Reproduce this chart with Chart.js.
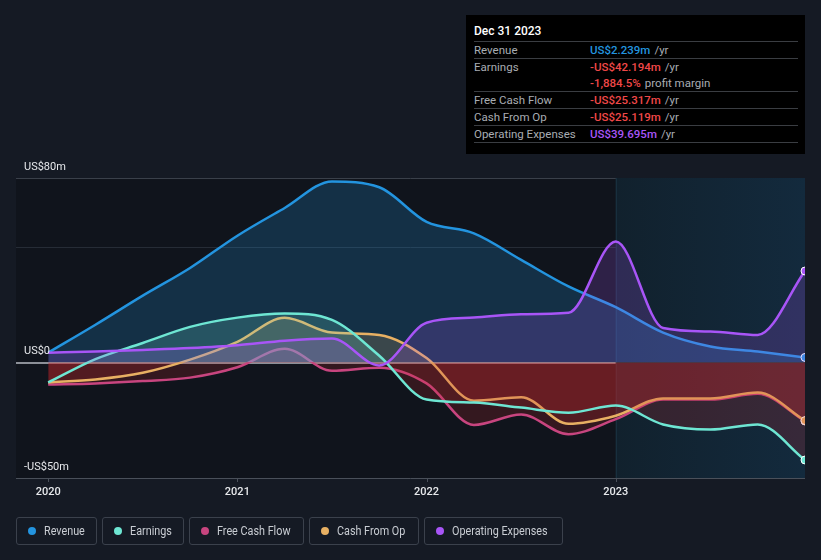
<!DOCTYPE html>
<html><head><meta charset="utf-8">
<script src="https://cdn.jsdelivr.net/npm/chart.js@4.4.0/dist/chart.umd.min.js"></script>
<style>
body{margin:0;background:#151a24;width:821px;height:560px;overflow:hidden;font-family:Roboto,"Noto Sans",sans-serif;}
#wrap{position:relative;width:821px;height:560px;}
#c{position:absolute;left:0;top:0;}
.tip{position:absolute;left:466px;top:15px;width:339px;height:139px;background:#000;box-sizing:border-box;padding:0 7px 0 8px;}
.tip .t{color:#fff;font-size:12px;font-weight:500;height:26px;line-height:33px;border-bottom:1px solid #3a3d42;}
.tip .r{display:flex;height:16px;line-height:16px;font-size:11.5px;border-bottom:1px solid #3a3d42;color:#a9adb3;}
.tip .r.nb{border-bottom:none;}
.tip .l{width:116px;}
.tip .v{font-weight:500;}
.tip .u{color:#a9adb3;margin-left:4px;}
.legend{position:absolute;left:16px;top:517px;}
.legend .i{position:absolute;top:0;height:28px;border:1px solid #3b414c;border-radius:3px;box-sizing:border-box;color:#c9cdd3;font-size:12px;white-space:nowrap;}
.legend .d{position:absolute;left:11px;top:9px;width:8px;height:8px;border-radius:50%;}
.legend .tx{position:absolute;left:27px;top:0;line-height:26px;display:inline-block;transform:scaleX(0.9);transform-origin:left center;}
</style></head>
<body><div id="wrap">
<canvas id="c" width="821" height="560"></canvas>
<div class="tip">
<div class="t">Dec 31 2023</div>
<div class="r"><span class="l">Revenue</span><span class="v" style="color:#2394df">US$2.239m</span><span class="u">/yr</span></div>
<div class="r nb"><span class="l">Earnings</span><span class="v" style="color:#f04848">-US$42.194m</span><span class="u">/yr</span></div>
<div class="r"><span class="l"></span><span class="v" style="color:#f04848">-1,884.5%</span><span class="u">profit margin</span></div>
<div class="r"><span class="l">Free Cash Flow</span><span class="v" style="color:#f04848">-US$25.317m</span><span class="u">/yr</span></div>
<div class="r"><span class="l">Cash From Op</span><span class="v" style="color:#f04848">-US$25.119m</span><span class="u">/yr</span></div>
<div class="r"><span class="l">Operating Expenses</span><span class="v" style="color:#a855f7">US$39.695m</span><span class="u">/yr</span></div>
</div>
<div class="legend" id="legend"></div>
</div>
<script>
const dates = [2020.0,2020.25,2020.5,2020.75,2021.0,2021.25,2021.5,2021.75,2022.0,2022.25,2022.5,2022.75,2023.0,2023.25,2023.5,2023.75,2024.0];
const revenue = [4.3,16.4,29,41,55,67,78.5,76,61,56,44.5,33,24,13,7,4.8,2.239];
const earnings = [-8.6,1.5,8.5,15.5,19.5,21.3,18.5,3,-16,-17.3,-19.5,-21.7,-18.6,-26.8,-29,-26.8,-42.194];
const freeCashFlow = [-9.5,-9,-8,-6.5,-2,6,-3.5,-2.2,-9,-27,-22.5,-31,-24.5,-16,-16,-13.5,-25.317];
const cashFromOp = [-8.6,-7.3,-4.4,1.3,9,19.4,13,12,2,-16.5,-15,-26.5,-23,-15.5,-15.5,-13,-25.119];
const opExpenses = [4.3,4.8,5.5,6.3,7.5,9.5,10.4,-1.2,17.3,19.5,21,21.6,52.5,15,13.5,12,39.695];
const yTicks = [-50,0,50,80];
const yLabels = {'80':'US$80m','0':'US$0','-50':'-US$50m'};
const xTicks = [2020,2021,2022,2023];
const seriesNames = ['Revenue','Earnings','Free Cash Flow','Cash From Op','Operating Expenses'];
const seriesColors = ['#2394df','#6ee6d3','#c8457f','#e8b063','#a855f7'];
const seriesFills = ['rgba(35,148,223,0.22)','rgba(110,230,211,0.2)','rgba(200,69,127,0.12)','rgba(232,176,99,0.18)','rgba(168,85,247,0.2)'];
const redFill = 'rgba(200,40,45,0.2)';
const seriesData = [revenue,earnings,freeCashFlow,cashFromOp,opExpenses];
const legendLeft = [0,86,173,293,408];
const legendWidth = [81,82,115,110,139];

const lg = document.getElementById('legend');
seriesNames.forEach((n,i)=>{
  const d=document.createElement('div');d.className='i';
  d.style.left=legendLeft[i]+'px';d.style.width=legendWidth[i]+'px';
  d.innerHTML='<span class="d" style="background:'+seriesColors[i]+'"></span><span class="tx">'+n+'</span>';
  lg.appendChild(d);
});

const bgPlugin = {
  id:'bg',
  beforeDatasetsDraw(chart){
    const {ctx, chartArea:a, scales:{x}} = chart;
    ctx.save();
    const hx = x.getPixelForValue(2023);
    const g = ctx.createLinearGradient(hx,0,a.right,0);
    g.addColorStop(0,'rgba(17,33,45,1)');
    g.addColorStop(1,'rgba(19,42,61,1)');
    ctx.fillStyle=g;
    ctx.fillRect(hx,a.top,a.right-hx,a.bottom-a.top);
    ctx.strokeStyle='#1c3344';ctx.lineWidth=1;
    ctx.beginPath();ctx.moveTo(hx+0.5,a.top);ctx.lineTo(hx+0.5,a.bottom);ctx.stroke();
    ctx.restore();
  },
  beforeDraw(chart){
    const {ctx, chartArea:a} = chart;
    ctx.save();
    ctx.fillStyle='#10141c';
    ctx.fillRect(a.left,a.top,a.right-a.left,a.bottom-a.top);
    ctx.restore();
  },
  afterDraw(chart){
    const {ctx, chartArea:a, scales:{x,y}} = chart;
    ctx.save();
    ctx.font='11px Roboto, sans-serif';
    ctx.fillStyle='#e6e8eb';
    ctx.textBaseline='middle';
    ctx.textAlign='left';
    yTicks.forEach(v=>{
      if(yLabels[String(v)]) ctx.fillText(yLabels[String(v)], 24, y.getPixelForValue(v)-11);
    });
    ctx.textAlign='center';
    ctx.font='500 11px Roboto, sans-serif';
    ctx.strokeStyle='#4a505a';ctx.lineWidth=1;
    xTicks.forEach(v=>{
      const px=x.getPixelForValue(v);
      ctx.beginPath();ctx.moveTo(Math.round(px)+0.5,a.bottom);ctx.lineTo(Math.round(px)+0.5,a.bottom+4);ctx.stroke();
      ctx.fillText(String(v), px, a.bottom+14);
    });
    ctx.restore();
  }
};

const datasets = seriesNames.map((n,i)=>({
  label:n,
  data: dates.map((d,j)=>({x:d,y:seriesData[i][j]})),
  borderColor: seriesColors[i],
  borderWidth: 2.5,
  fill: {target:'origin', above: seriesFills[i], below: redFill},
  cubicInterpolationMode:'monotone',
  pointRadius: dates.map((d,j)=> j===dates.length-1 ? 4 : 0),
  pointBackgroundColor: seriesColors[i],
  pointBorderColor: '#ffffff',
  pointBorderWidth: 1,
}));
datasets.forEach((d,i)=>{ d.order = [3,1,4,2,0][i]; });

new Chart(document.getElementById('c'),{
  type:'line',
  data:{datasets},
  plugins:[bgPlugin],
  options:{
    responsive:false, animation:false,
    layout:{padding:{left:16,right:16,top:178,bottom:82}},
    plugins:{legend:{display:false},tooltip:{enabled:false}},
    scales:{
      x:{type:'linear',min:2019.83,max:2024.0,
        afterFit(s){s.height=0;},
        ticks:{display:false},
        grid:{display:false},
        border:{display:false}},
      y:{type:'linear',min:-50,max:80,
        afterFit(s){s.width=0;},
        afterBuildTicks(s){s.ticks=yTicks.map(v=>({value:v}));},
        ticks:{display:false},
        grid:{drawTicks:false, lineWidth:(c)=> c.tick && c.tick.value===0 ? 2 : 1,
          color:(c)=> { const v=c.tick&&c.tick.value; return v===0 ? '#8c9098' : (v===-50 ? '#4a505a' : (v===80 ? '#3a404a' : '#262c36')); }},
        border:{display:false}}
    }
  }
});
</script>
</body></html>
